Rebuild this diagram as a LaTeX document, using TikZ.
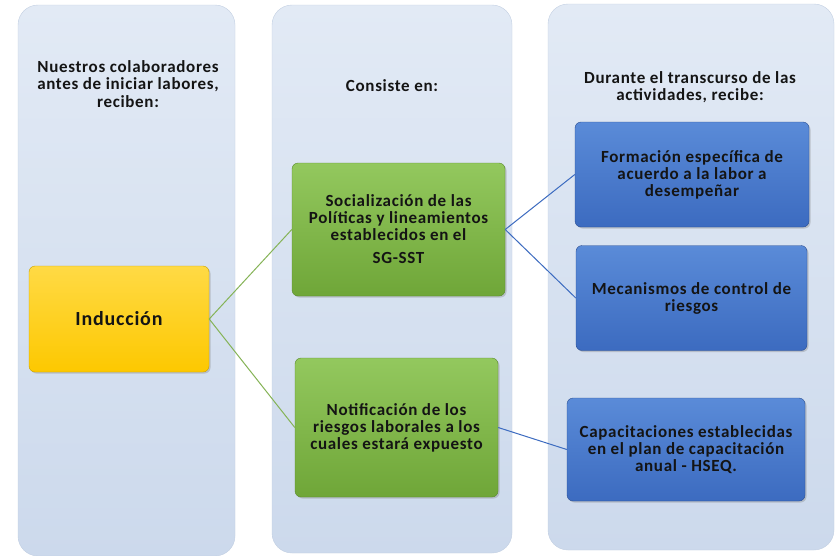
\documentclass[tikz,border=0pt]{standalone}
\usepackage{fontspec}
\setmainfont{Carlito}[LetterSpace=4]
\usetikzlibrary{shadows}
\definecolor{colA}{HTML}{E2EAF5}
\definecolor{colB}{HTML}{CCD9EC}
\definecolor{colLine}{HTML}{C3D0E3}
\definecolor{indA}{HTML}{FFDA45}
\definecolor{indB}{HTML}{FDC800}
\definecolor{indLine}{HTML}{C9A200}
\definecolor{grnA}{HTML}{93C85E}
\definecolor{grnB}{HTML}{6FA638}
\definecolor{grnLine}{HTML}{5A8A2C}
\definecolor{bluA}{HTML}{5A8BD8}
\definecolor{bluB}{HTML}{3C6BC0}
\definecolor{bluLine}{HTML}{2C4F92}
\definecolor{txt}{HTML}{141414}
\tikzset{
    colbox/.style={rounded corners=20pt, draw=colLine, top color=colA, bottom color=colB},
    headtxt/.style={align=center, text=txt, font=\bfseries\fontsize{17}{17.5}\selectfont},
    box/.style={rounded corners=6pt, align=center, text=txt, drop shadow={opacity=0.35, shadow xshift=1.5pt, shadow yshift=-1.5pt},
        font=\bfseries\fontsize{17}{17}\selectfont},
    indbox/.style={box, draw=indLine, top color=indA, bottom color=indB},
    grnbox/.style={box, draw=grnLine, top color=grnA, bottom color=grnB},
    blubox/.style={box, draw=bluLine, top color=bluA, bottom color=bluB},
    grnlink/.style={-, draw=grnB!85!white, line width=1pt},
    blulink/.style={-, draw=bluB, line width=1pt}
}
\begin{document}
\begin{tikzpicture}[x=1pt,y=-1pt]
    \useasboundingbox[fill=white] (0,0) rectangle (840,555);

    % columns
    \path[colbox] (18,5) rectangle (235,556);
    \path[colbox] (272,5) rectangle (512,553);
    \path[colbox] (548,4) rectangle (834,550);

    \node[headtxt] (h1) at (128,84) {Nuestros colaboradores\\antes de iniciar labores,\\reciben:};
    \node[headtxt] (h2) at (392,86) {Consiste en:};
    \node[headtxt] (h3) at (690,87) {Durante el transcurso de las\\actividades, recibe:};

    \node[indbox, minimum width=180pt, minimum height=106pt, font=\bfseries\fontsize{20}{18}\selectfont] (ind) at (119,319) {Inducción};

    \node[grnbox, minimum width=213pt, minimum height=133pt] (soc) at (398.5,229.5) {Socialización de las\\Políticas y lineamientos\\establecidos en el\\[6pt]SG-SST};
    \node[grnbox, minimum width=203pt, minimum height=139pt] (notif) at (396.5,427.5) {Notificación de los\\riesgos laborales a los\\cuales estará expuesto};

    \node[blubox, minimum width=234pt, minimum height=105pt] (form) at (692,174.5) {Formación específica de\\acuerdo a la labor a\\desempeñar};
    \node[blubox, minimum width=231pt, minimum height=105pt] (mec) at (691.5,298) {Mecanismos de control de\\riesgos};
    \node[blubox, minimum width=238pt, minimum height=103pt] (cap) at (686,449.5) {Capacitaciones establecidas\\en el plan de capacitación\\anual - HSEQ.};

    \path [grnlink](ind.east) edge (soc.west);
    \path [grnlink](ind.east) edge (notif.west);
    \path [blulink](soc.east) edge (form.west);
    \path [blulink](soc.east) edge (mec.west);
    \path [blulink](notif.east) edge (cap.west);
\end{tikzpicture}
\end{document}
